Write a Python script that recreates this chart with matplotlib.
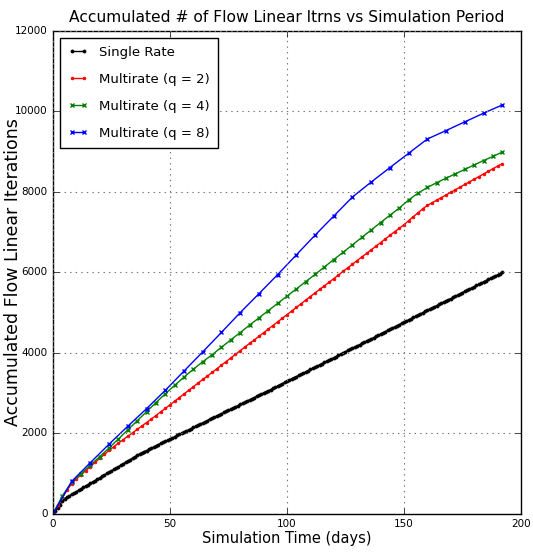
import matplotlib
matplotlib.use('Agg')
import matplotlib.pyplot as plt
import numpy as np

# accumulated linear iterations
days_single = list(range(0, 193))
single_rate = [
    0, 75, 150, 230, 320, 380, 415, 450, 485, 520,
    555, 590, 625, 660, 695, 725, 760, 795, 830, 865,
    900, 935, 970, 1005, 1040, 1070, 1105, 1140, 1175, 1210,
    1245, 1280, 1315, 1350, 1385, 1420, 1455, 1490, 1520, 1550,
    1575, 1605, 1635, 1660, 1690, 1720, 1750, 1775, 1805, 1835,
    1860, 1890, 1920, 1950, 1975, 2005, 2035, 2060, 2090, 2120,
    2150, 2175, 2205, 2235, 2260, 2290, 2320, 2350, 2375, 2405,
    2435, 2460, 2490, 2520, 2550, 2575, 2605, 2635, 2660, 2690,
    2720, 2750, 2775, 2805, 2835, 2860, 2890, 2920, 2950, 2975,
    3005, 3035, 3060, 3090, 3120, 3150, 3175, 3205, 3235, 3265,
    3295, 3325, 3355, 3385, 3410, 3440, 3470, 3500, 3530, 3560,
    3590, 3615, 3645, 3675, 3705, 3735, 3765, 3790, 3820, 3850,
    3880, 3910, 3940, 3970, 4000, 4030, 4060, 4090, 4120, 4145,
    4175, 4205, 4235, 4265, 4295, 4325, 4350, 4380, 4410, 4440,
    4470, 4500, 4530, 4560, 4590, 4615, 4645, 4675, 4705, 4735,
    4765, 4795, 4820, 4850, 4880, 4910, 4940, 4970, 5000, 5030,
    5060, 5090, 5115, 5145, 5175, 5205, 5235, 5265, 5295, 5325,
    5350, 5380, 5410, 5440, 5470, 5500, 5530, 5560, 5590, 5615,
    5645, 5675, 5705, 5735, 5765, 5795, 5825, 5855, 5880, 5910,
    5940, 5970, 6000,
]

days_q2 = list(range(0, 193, 2))
multi_q2 = [
    0, 210, 410, 590, 750, 870, 975, 1075, 1175, 1280,
    1380, 1480, 1580, 1670, 1760, 1845, 1930, 2015, 2100, 2185,
    2270, 2355, 2445, 2535, 2620, 2710, 2800, 2890, 2980, 3070,
    3160, 3250, 3340, 3425, 3515, 3605, 3695, 3785, 3875, 3965,
    4055, 4145, 4235, 4320, 4410, 4500, 4590, 4680, 4770, 4860,
    4950, 5040, 5130, 5220, 5310, 5400, 5490, 5580, 5665, 5755,
    5845, 5935, 6025, 6115, 6205, 6295, 6385, 6470, 6560, 6650,
    6740, 6830, 6920, 7010, 7095, 7185, 7285, 7385, 7480, 7580,
    7665, 7730, 7795, 7860, 7925, 7990, 8055, 8120, 8185, 8250,
    8315, 8380, 8445, 8510, 8575, 8640, 8700,
]

days_q4 = list(range(0, 193, 4))
multi_q4 = [
    0, 447, 790, 1000, 1210, 1425, 1640, 1865, 2090, 2315,
    2540, 2765, 2985, 3195, 3400, 3595, 3780, 3955, 4140, 4325,
    4506, 4690, 4870, 5050, 5230, 5410, 5590, 5770, 5950, 6135,
    6320, 6500, 6685, 6870, 7055, 7240, 7420, 7600, 7800, 7970,
    8110, 8230, 8340, 8450, 8560, 8670, 8780, 8880, 8990,
]

days_q8 = list(range(0, 193, 8))
multi_q8 = [
    0, 810, 1275, 1735, 2180, 2615, 3070, 3550, 4025, 4510,
    5000, 5470, 5945, 6435, 6925, 7400, 7875, 8245, 8605, 8960,
    9315, 9525, 9740, 9955, 10160,
]

plt.style.use('classic')
plt.rcParams['font.family'] = ['DejaVu Sans']

fig = plt.figure(figsize=(5.33, 5.52), dpi=100, facecolor='white')
ax = fig.add_axes([0.0994, 0.069, 0.878, 0.875])

ax.plot(days_single, single_rate, 'k.-', markersize=4.5, linewidth=1, label='Single Rate')
ax.plot(days_q2, multi_q2, 'r.-', markersize=4, linewidth=1, label='Multirate (q = 2)')
ax.plot(days_q4, multi_q4, 'gx-', markersize=3, markeredgewidth=1, linewidth=1,
        label='Multirate (q = 4)')
ax.plot(days_q8, multi_q8, 'bx-', markersize=3, markeredgewidth=1, linewidth=1,
        label='Multirate (q = 8)')

ax.set_xlim(0, 200)
ax.set_ylim(0, 12000)
ax.set_xticks([0, 50, 100, 150, 200])
ax.set_yticks([0, 2000, 4000, 6000, 8000, 10000, 12000])
ax.tick_params(labelsize=7.5)
ax.grid(True, color='0.45', linestyle=':', linewidth=0.8)

ax.set_title('Accumulated # of Flow Linear Itrns vs Simulation Period', fontsize=11.2, y=1.005)
ax.set_xlabel('Simulation Time (days)', fontsize=10.5, labelpad=1)
ax.set_ylabel('Accumulated Flow Linear Iterations', fontsize=12.5)
ax.yaxis.set_label_coords(-0.066, 0.5)

leg = ax.legend(loc='upper left', fontsize=9.5, numpoints=2, handlelength=1.5,
                labelspacing=1.05, borderaxespad=0.5, handletextpad=0.85,
                borderpad=0.65)
leg.get_frame().set_linewidth(1)

fig.savefig('out.png', dpi=100, facecolor='white')
